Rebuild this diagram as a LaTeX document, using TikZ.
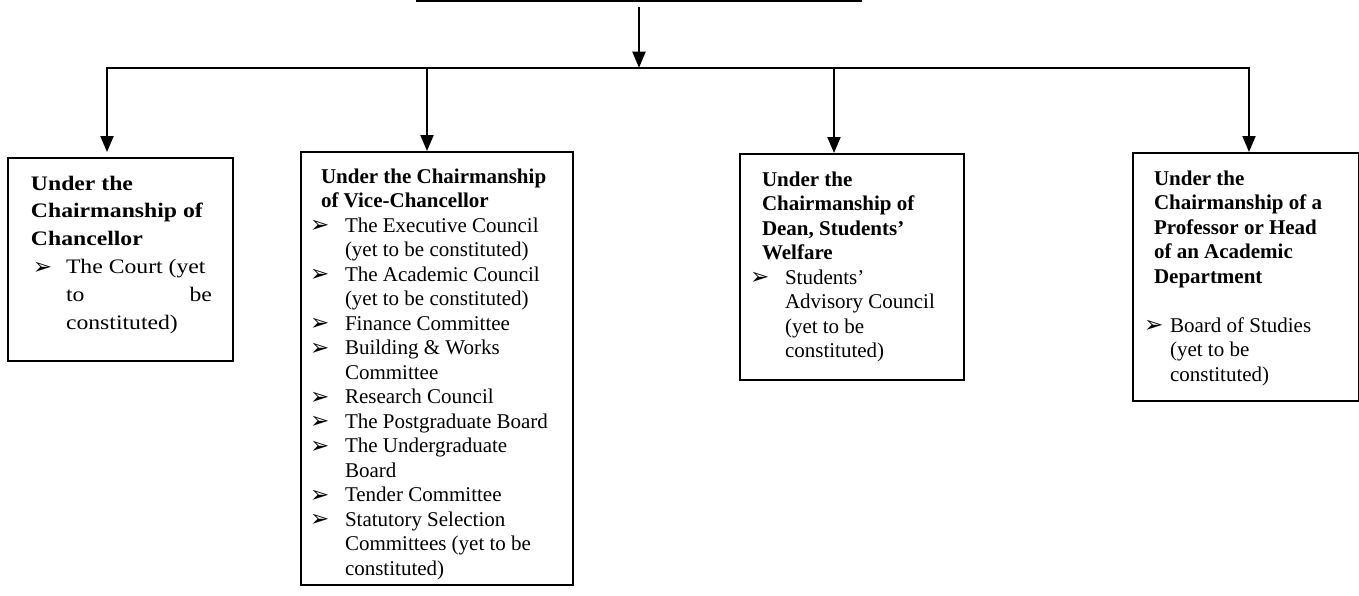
\documentclass[tikz,border=0pt]{standalone}
\usepackage{fontspec}
\setmainfont{Liberation Serif}
\newfontfamily\widefont[FakeStretch=1.15]{Liberation Serif}
\newfontfamily\symfont{DejaVu Sans}
\usetikzlibrary{arrows.meta, positioning}

\newcommand{\bul}{\raisebox{-0.4pt}{\symfont\bfseries\fontsize{11.5}{11.5}\selectfont ➢}}
\newcommand{\itm}[2]{\makebox[#1][l]{\bul}#2}
\newcommand{\firstline}{\rule{0pt}{8pt}}

\begin{document}
\begin{tikzpicture}[
            x = 0.5pt, y = -0.5pt, % pixel grid, y pointing down
            > = {Triangle[width=6.5pt, length=8pt]}, % arrow head style
            line width = 1pt,
            orgbox/.style = {draw, line width=1.2pt, inner sep=0pt, anchor=north west},
            boxtext/.style = {inner sep=0pt, align=left, font=\fontsize{10.5}{12.25}\selectfont},
            widetext/.style = {boxtext, font=\widefont\fontsize{10.3}{13.9}\selectfont}
        ]

	\useasboundingbox (0,0) rectangle (1359,595);

	% boxes
	\node[orgbox, anchor=south, minimum width=222pt, minimum height=30pt] (top) at (639,2) {};
	\node[orgbox, minimum width=112.5pt, minimum height=101.5pt] (chanc) at (7,157) {};
	\node[orgbox, minimum width=136pt, minimum height=216.5pt] (vc) at (300,151) {};
	\node[orgbox, minimum width=112pt, minimum height=113pt] (dsw) at (739,153) {};
	\node[orgbox, minimum width=113pt, minimum height=124pt] (prof) at (1132,152) {};

	% texts
	\node[widetext, below right=8pt and 11.5pt of chanc.north west] (chanctext) {%
		\textbf{\firstline Under the}\\
		\textbf{Chairmanship of}\\
		\textbf{Chancellor}\\
		\hspace*{1pt}\itm{16.5pt}{The Court (yet}\\
		\hspace*{17.5pt}\makebox[73pt][l]{to\hfill be}\\
		\hspace*{17.5pt}constituted)};

	\node[boxtext, below right=7.5pt and 4.5pt of vc.north west] (vctext) {%
		\hspace*{5.5pt}\textbf{\firstline Under the Chairmanship}\\
		\hspace*{5.5pt}\textbf{of Vice-Chancellor}\\
		\itm{17.5pt}{The Executive Council}\\
		\hspace*{17.5pt}(yet to be constituted)\\
		\itm{17.5pt}{The Academic Council}\\
		\hspace*{17.5pt}(yet to be constituted)\\
		\itm{17.5pt}{Finance Committee}\\
		\itm{17.5pt}{Building \& Works}\\
		\hspace*{17.5pt}Committee\\
		\itm{17.5pt}{Research Council}\\
		\itm{17.5pt}{The Postgraduate Board}\\
		\itm{17.5pt}{The Undergraduate}\\
		\hspace*{17.5pt}Board\\
		\itm{17.5pt}{Tender Committee}\\
		\itm{17.5pt}{Statutory Selection}\\
		\hspace*{17.5pt}Committees (yet to be\\
		\hspace*{17.5pt}constituted)};

	\node[boxtext, below right=8pt and 5pt of dsw.north west] (dswtext) {%
		\hspace*{6pt}\textbf{\firstline Under the}\\
		\hspace*{6pt}\textbf{Chairmanship of}\\
		\hspace*{6pt}\textbf{Dean, Students’}\\
		\hspace*{6pt}\textbf{Welfare}\\
		\itm{17.5pt}{Students’}\\
		\hspace*{17.5pt}Advisory Council\\
		\hspace*{17.5pt}(yet to be\\
		\hspace*{17.5pt}constituted)};

	\node[boxtext, below right=8pt and 5.5pt of prof.north west] (proftext) {%
		\hspace*{5pt}\textbf{\firstline Under the}\\
		\hspace*{5pt}\textbf{Chairmanship of a}\\
		\hspace*{5pt}\textbf{Professor or Head}\\
		\hspace*{5pt}\textbf{of an Academic}\\
		\hspace*{5pt}\textbf{Department}\\[12.25pt]
		\itm{13pt}{Board of Studies}\\
		\hspace*{13pt}(yet to be\\
		\hspace*{13pt}constituted)};

	% connectors
	\coordinate (b1) at (107,67.7);
	\coordinate (b2) at (427,67.7);
	\coordinate (b3) at (834,67.7);
	\coordinate (b4) at (1249,67.7);

	\draw[->, shorten <=2.5pt] (top.south) -- (top.south |- b2);
	\draw (b2) -- (b3);
	\draw[->, shorten >=2.5pt] (b2) -- (b1) -- (b1 |- chanc.north);
	\draw[->] (b3) -- (b4) -- (b4 |- prof.north);
	\draw[->] (b2) -- (b2 |- vc.north);
	\draw[->] (b3) -- (b3 |- dsw.north);

    \end{tikzpicture}
\end{document}
